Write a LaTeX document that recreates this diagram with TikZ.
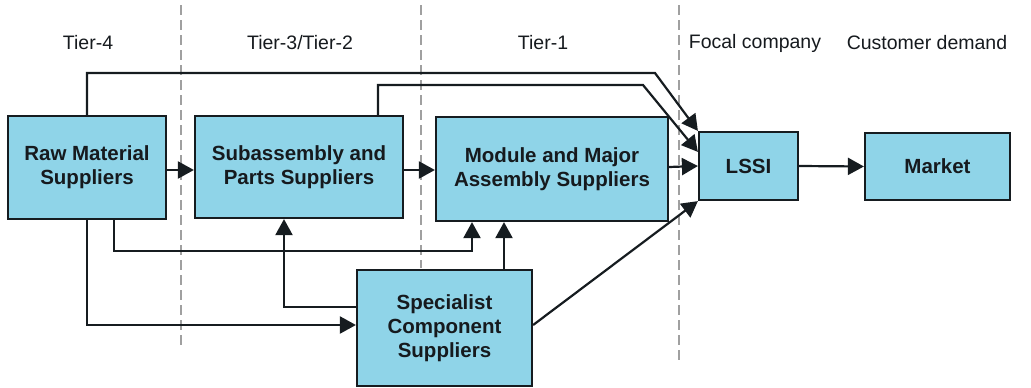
\documentclass[tikz,border=0pt]{standalone}
\usepackage{fontspec}
\setmainfont{Liberation Sans}
\usetikzlibrary{arrows.meta}
\definecolor{boxfill}{RGB}{143,212,232}
\definecolor{boxline}{RGB}{22,28,32}
\definecolor{txt}{RGB}{22,26,30}
\definecolor{dash}{RGB}{160,160,160}
\tikzset{
  sbox/.style={draw=boxline, fill=boxfill, line width=2.2pt, inner sep=0pt, align=center,
    font=\fontsize{20.5}{24}\selectfont\bfseries, text=txt},
  hdr/.style={font=\fontsize{19.5}{23}\selectfont, text=txt, inner sep=0pt},
  arr/.style={draw=boxline, line width=2.2pt, -{Triangle[length=16pt,width=17pt]}},
  tierline/.style={draw=dash, line width=1.6pt, dash pattern=on 10pt off 5pt}
}
\begin{document}
\begin{tikzpicture}[x=1pt,y=-1pt]
\useasboundingbox (0,0) rectangle (1031,388);
% tier separators
\coordinate (d1a) at (181,5);  \coordinate (d1b) at (181,345);
\coordinate (d2a) at (421,5);  \coordinate (d2b) at (421,268);
\coordinate (d3a) at (679,5);  \coordinate (d3b) at (679,362);
\draw[tierline] (d1a) -- (d1b);
\draw[tierline] (d2a) -- (d2b);
\draw[tierline] (d3a) -- (d3b);
% headers
\node[hdr] (h1) at (88,43) {Tier-4};
\node[hdr] (h2) at (300,43) {Tier-3/Tier-2};
\node[hdr] (h3) at (543,43) {Tier-1};
\node[hdr] (h4) at (755,43) {Focal company};
\node[hdr] (h5) at (927,43) {Customer demand};
% boxes
\node[sbox, minimum width=158pt, minimum height=103pt] (raw) at (87,167.5) {Raw Material\\Suppliers};
\node[sbox, minimum width=208pt, minimum height=102pt] (sub) at (299,167) {Subassembly and\\Parts Suppliers};
\node[sbox, minimum width=232pt, minimum height=104pt] (mod) at (552,169) {Module and Major\\Assembly Suppliers};
\node[sbox, minimum width=99pt, minimum height=68pt] (lssi) at (748.5,166) {LSSI};
\node[sbox, minimum width=145pt, minimum height=67pt] (mkt) at (937.5,166.5) {Market};
\node[sbox, minimum width=175pt, minimum height=116pt] (spec) at (444.5,328) {Specialist\\Component\\Suppliers};
% main chain
\draw[arr] ([yshift=-2.5]raw.east) -- ([yshift=-3]sub.west);
\draw[arr] ([yshift=-3]sub.east) -- ([yshift=-1]mod.west);
\draw[arr] ([yshift=2]mod.east) -- (lssi.west);
\draw[arr] (lssi.east) -- (mkt.west);
% bypass lines to LSSI
\coordinate (b1) at (655,73);
\coordinate (b2) at (643,85);
\draw[arr] (raw.north) |- (b1) -- (lssi.north west);
\draw[arr] ([xshift=79]sub.north) |- (b2) -- ([yshift=-21]lssi.north west);
% lower connections
\coordinate (rA) at ([xshift=27]raw.south);
\coordinate (mA) at ([xshift=-80]mod.south);
\coordinate (cA) at (472,251);
\draw[arr] (rA) |- (cA) -- (mA);
\draw[arr] (raw.south) |- ([yshift=3]spec.west);
\draw[arr] ([yshift=21]spec.west) -| ([xshift=-15]sub.south);
\coordinate (sT) at ([xshift=59.5]spec.north);
\draw[arr] (sT) -- (sT |- mod.south);
\draw[arr] ([yshift=3]spec.east) -- (lssi.south west);
\end{tikzpicture}
\end{document}
